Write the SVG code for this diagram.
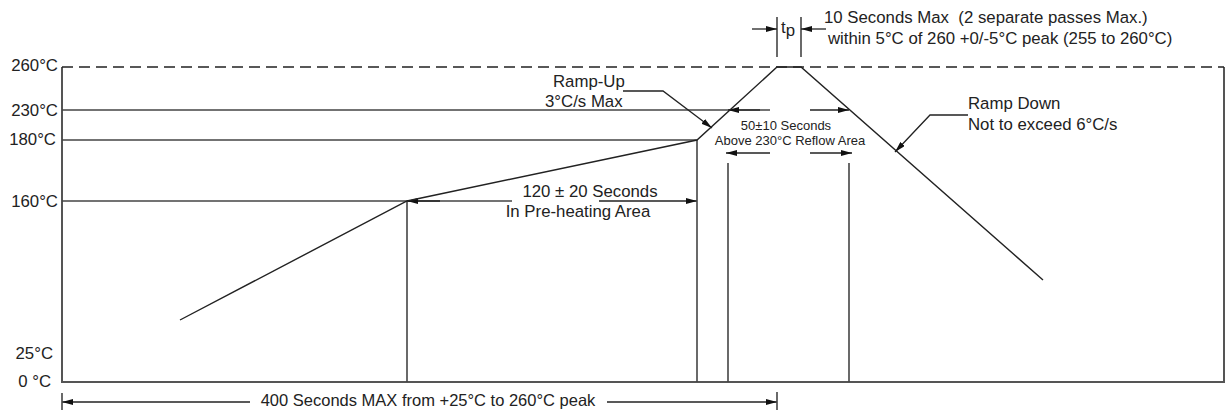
<svg xmlns="http://www.w3.org/2000/svg" width="1230" height="410" viewBox="0 0 1230 410">
<style>
text{font-family:"Liberation Sans",Arial,sans-serif;font-size:16.8px;fill:#222}
.s{font-size:13px}
.b{font-size:16.5px}
.ax{stroke:#555;stroke-width:2;fill:none}
.ln{stroke:#444;stroke-width:1.6;fill:none}
.cv{stroke:#222;stroke-width:1.4;fill:none}
.dim{stroke:#222;stroke-width:1.3;fill:none;marker-end:url(#ah)}
</style>
<defs>
<marker id="ah" markerUnits="userSpaceOnUse" markerWidth="12" markerHeight="6" refX="11" refY="3" orient="auto">
<path d="M0,0 L11,3 L0,6 z" fill="#111"/>
</marker>
</defs>
<rect width="1230" height="410" fill="#fff"/>
<g id="frame">
<line class="ax" x1="62" y1="67" x2="62" y2="383"/>
<line class="ax" x1="61" y1="382" x2="1225" y2="382"/>
<line class="ax" x1="1224" y1="67" x2="1224" y2="383"/>
<line x1="62" y1="67" x2="1224" y2="67" stroke="#222" stroke-width="1.5" stroke-dasharray="11 6"/>
</g>
<g id="y-labels">
<text x="58" y="71" text-anchor="end">260°C</text>
<text x="58" y="116" text-anchor="end">230°C</text>
<text x="56" y="145" text-anchor="end">180°C</text>
<text x="58" y="207" text-anchor="end">160°C</text>
<text x="53" y="359" text-anchor="end">25°C</text>
<text x="51" y="387" text-anchor="end">0 °C</text>
</g>
<g id="connectors">
<line class="ln" x1="62" y1="110" x2="770" y2="110"/>
<line class="ln" x1="62" y1="140" x2="697" y2="140"/>
<line class="ln" x1="62" y1="201" x2="512" y2="201"/>
<line class="dim" x1="440" y1="201" x2="407" y2="201"/>
<line class="dim" x1="599" y1="201" x2="697" y2="201"/>
<line class="ln" x1="407" y1="201" x2="407" y2="382"/>
<line class="ln" x1="697" y1="140" x2="697" y2="382"/>
<line class="ln" x1="728" y1="163" x2="728" y2="382"/>
<line class="ln" x1="849" y1="163" x2="849" y2="382"/>
<line class="dim" x1="760" y1="110" x2="728" y2="110"/>
<line class="dim" x1="810" y1="110" x2="849" y2="110"/>
<line class="dim" x1="770" y1="153" x2="726" y2="153"/>
<line class="dim" x1="810" y1="153" x2="852" y2="153"/>
<polyline class="dim" points="623,91 663,91 712,128"/>
<polyline class="dim" points="968,115 930,115 895,152"/>
<line class="ln" x1="777" y1="17" x2="777" y2="57"/>
<line class="ln" x1="801" y1="17" x2="801" y2="57"/>
<line class="dim" x1="752" y1="29" x2="777" y2="29"/>
<line class="dim" x1="826" y1="29" x2="801" y2="29"/>
<line class="dim" x1="250" y1="402" x2="62" y2="402"/>
<line class="dim" x1="607" y1="402" x2="777" y2="402"/>
<line class="ln" x1="62" y1="393" x2="62" y2="410"/>
<line class="ln" x1="777" y1="392" x2="777" y2="410"/>
</g>
<g id="profile">
<polyline class="cv" points="180,320 407,201 697,140 777,67 801,67 1043,280"/>
</g>
<g id="labels">
<text x="781" y="33">t<tspan dy="3">p</tspan></text>
<text x="824" y="23" xml:space="preserve">10 Seconds Max  (2 separate passes Max.)</text>
<text x="828" y="44">within 5°C of 260 +0/-5°C peak (255 to 260°C)</text>
<text x="553" y="87">Ramp-Up</text>
<text x="545" y="107">3°C/s Max</text>
<text class="s" x="786" y="130" text-anchor="middle">50±10 Seconds</text>
<text class="s" x="790" y="145" text-anchor="middle">Above 230°C Reflow Area</text>
<text x="590" y="197" text-anchor="middle">120 ± 20 Seconds</text>
<text x="578" y="217" text-anchor="middle">In Pre-heating Area</text>
<text x="968" y="109">Ramp Down</text>
<text x="968" y="130">Not to exceed 6°C/s</text>
<text class="b" x="428" y="405.5" text-anchor="middle">400 Seconds MAX from +25°C to 260°C peak</text>
</g>
</svg>
